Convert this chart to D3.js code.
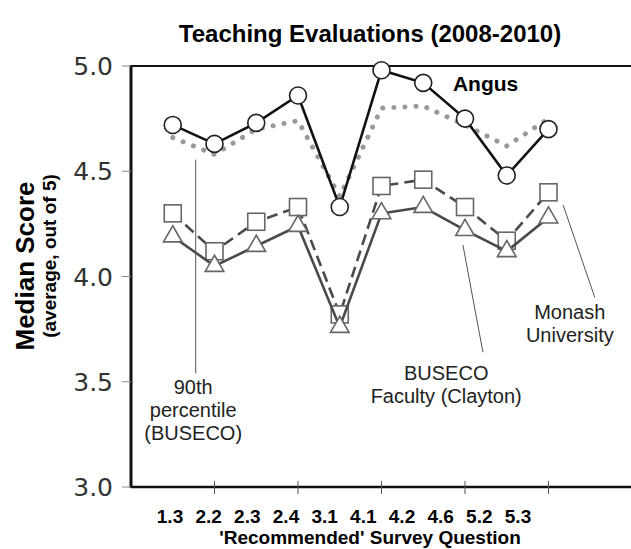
<!DOCTYPE html>
<html>
<head>
<meta charset="utf-8">
<script src="https://cdn.jsdelivr.net/npm/d3@7"></script>
<style>
  body { margin: 0; background: #fff; }
  svg { display: block; }
</style>
</head>
<body>
<div id="chart"></div>
<script>
// Survey questions (x categories)
const categories = ["1.3", "2.2", "2.3", "2.4", "3.1", "4.1", "4.2", "4.6", "5.2", "5.3"];

// Median scores
const angus   = [4.72, 4.63, 4.73, 4.86, 4.33, 4.98, 4.92, 4.75, 4.48, 4.70];
const pct90   = [4.66, 4.58, 4.70, 4.74, 4.38, 4.80, 4.81, 4.72, 4.62, 4.75];
const monash  = [4.30, 4.12, 4.26, 4.33, 3.82, 4.43, 4.46, 4.33, 4.17, 4.40];
const buseco  = [4.19, 4.05, 4.145, 4.24, 3.76, 4.30, 4.33, 4.22, 4.12, 4.28];

// Axis ticks
const yTicks = [3.0, 3.5, 4.0, 4.5, 5.0];
const xTicks = [2, 4, 6, 8, 10];

const width = 631;
const height = 549;

const svg = d3.select("#chart")
  .append("svg")
  .attr("width", width)
  .attr("height", height);

// x is the position of a question (1..10), y the score
const x = d3.scaleLinear().domain([0, 12]).range([131, 632]);
const y = d3.scaleLinear().domain([3, 5]).range([487, 66]);

// labels under the axis sit on their own, slightly tighter spacing
const xLabel = d3.scalePoint().domain(categories).range([170, 518]);

const pts = vals => vals.map((v, i) => ({ i: i + 1, v: v }));

const line = d3.line()
  .x(d => x(d.i))
  .y(d => y(d.v));

// Title
svg.append("text")
  .attr("x", 370)
  .attr("y", 42)
  .attr("text-anchor", "middle")
  .style("font-family", "'Liberation Sans', Arial, sans-serif")
  .style("font-weight", "bold")
  .style("font-size", "24px")
  .text("Teaching Evaluations (2008-2010)");

// Frame: top and bottom lines, left axis
svg.append("line")
  .attr("x1", x(0)).attr("x2", width)
  .attr("y1", y(5)).attr("y2", y(5))
  .attr("stroke", "#111").attr("stroke-width", 2.2);

svg.append("line")
  .attr("x1", x(0)).attr("x2", width)
  .attr("y1", y(3)).attr("y2", y(3))
  .attr("stroke", "#111").attr("stroke-width", 2.5);

svg.append("line")
  .attr("x1", x(0)).attr("x2", x(0))
  .attr("y1", y(5) - 1).attr("y2", y(3) + 1)
  .attr("stroke", "#111").attr("stroke-width", 3);

// y ticks and labels
svg.selectAll(".ytick")
  .data(yTicks)
  .join("line")
  .attr("class", "ytick")
  .attr("x1", x(0) - 9).attr("x2", x(0))
  .attr("y1", d => y(d)).attr("y2", d => y(d))
  .attr("stroke", "#888").attr("stroke-width", 1);

svg.selectAll(".ylab")
  .data(yTicks)
  .join("text")
  .attr("class", "ylab")
  .attr("x", 113)
  .attr("y", d => y(d))
  .attr("dy", "0.36em")
  .attr("text-anchor", "end")
  .style("font-family", "'DejaVu Sans', Verdana, sans-serif")
  .style("font-size", "25px")
  .style("fill", "#333")
  .text(d => d.toFixed(1));

// x ticks cross the bottom line
svg.selectAll(".xtick")
  .data(xTicks)
  .join("line")
  .attr("class", "xtick")
  .attr("x1", d => x(d)).attr("x2", d => x(d))
  .attr("y1", y(3) - 6).attr("y2", y(3) + 7)
  .attr("stroke", "#555").attr("stroke-width", 1);

svg.selectAll(".xlab")
  .data(categories)
  .join("text")
  .attr("class", "xlab")
  .attr("x", d => xLabel(d))
  .attr("y", 523)
  .attr("text-anchor", "middle")
  .style("font-family", "'Liberation Sans', Arial, sans-serif")
  .style("font-weight", "bold")
  .style("font-size", "19px")
  .text(d => d);

// Axis titles
svg.append("text")
  .attr("x", 370)
  .attr("y", 544)
  .attr("text-anchor", "middle")
  .style("font-family", "'Liberation Sans', Arial, sans-serif")
  .style("font-weight", "bold")
  .style("font-size", "19px")
  .text("'Recommended' Survey Question");

svg.append("text")
  .attr("transform", "translate(34,266) rotate(-90)")
  .attr("text-anchor", "middle")
  .style("font-family", "'Liberation Sans', Arial, sans-serif")
  .style("font-weight", "bold")
  .style("font-size", "26px")
  .text("Median Score");

svg.append("text")
  .attr("transform", "translate(56,256) rotate(-90)")
  .attr("text-anchor", "middle")
  .style("font-family", "'Liberation Sans', Arial, sans-serif")
  .style("font-weight", "bold")
  .style("font-size", "19px")
  .text("(average, out of 5)");

// 90th percentile: grey dotted line
svg.append("path")
  .datum(pts(pct90))
  .attr("fill", "none")
  .attr("stroke", "#999")
  .attr("stroke-width", 5)
  .attr("stroke-linecap", "round")
  .attr("stroke-dasharray", "0.1 11")
  .attr("d", line);

// Monash: dashed line with squares
svg.append("path")
  .datum(pts(monash))
  .attr("fill", "none")
  .attr("stroke", "#4a4a4a")
  .attr("stroke-width", 2.6)
  .attr("stroke-dasharray", "11 6")
  .attr("d", line);

svg.selectAll(".sq")
  .data(pts(monash))
  .join("rect")
  .attr("class", "sq")
  .attr("x", d => x(d.i) - 8.5)
  .attr("y", d => y(d.v) - 8.5)
  .attr("width", 17)
  .attr("height", 17)
  .attr("fill", "#fff")
  .attr("stroke", "#666")
  .attr("stroke-width", 1.6);

// BUSECO faculty: solid grey line with triangles
svg.append("path")
  .datum(pts(buseco))
  .attr("fill", "none")
  .attr("stroke", "#4a4a4a")
  .attr("stroke-width", 2.6)
  .attr("d", line);

const tri = d3.symbol().type(d3.symbolTriangle).size(150);
svg.selectAll(".tri")
  .data(pts(buseco))
  .join("path")
  .attr("class", "tri")
  .attr("transform", d => `translate(${x(d.i)},${y(d.v)})`)
  .attr("d", tri)
  .attr("fill", "#fff")
  .attr("stroke", "#666")
  .attr("stroke-width", 1.6);

// Angus: black line with open circles
svg.append("path")
  .datum(pts(angus))
  .attr("fill", "none")
  .attr("stroke", "#111")
  .attr("stroke-width", 2.6)
  .attr("d", line);

svg.selectAll(".dot")
  .data(pts(angus))
  .join("circle")
  .attr("class", "dot")
  .attr("cx", d => x(d.i))
  .attr("cy", d => y(d.v))
  .attr("r", 8.5)
  .attr("fill", "#fff")
  .attr("stroke", "#222")
  .attr("stroke-width", 1.6);

// Annotations (positions in data units) with leader lines
const notes = [
  { lines: ["90th", "percentile", "(BUSECO)"], tx: 1.49, ty: 3.44, from: [1.55, 4.555], to: [1.55, 3.54] },
  { lines: ["BUSECO", "Faculty (Clayton)"], tx: 7.55, ty: 3.51, from: [7.95, 4.15], to: [8.43, 3.64] },
  { lines: ["Monash", "University"], tx: 10.51, ty: 3.80, from: [10.35, 4.34], to: [11.11, 3.90] }
];

svg.selectAll(".leader")
  .data(notes)
  .join("line")
  .attr("class", "leader")
  .attr("x1", d => x(d.from[0])).attr("y1", d => y(d.from[1]))
  .attr("x2", d => x(d.to[0])).attr("y2", d => y(d.to[1]))
  .attr("stroke", "#555")
  .attr("stroke-width", 1);

const noteText = svg.selectAll(".note")
  .data(notes)
  .join("text")
  .attr("class", "note")
  .attr("text-anchor", "middle")
  .style("font-family", "'Liberation Sans', Arial, sans-serif")
  .style("font-size", "20px")
  .style("fill", "#222");

noteText.selectAll("tspan")
  .data(d => d.lines.map((t, k) => ({ t: t, k: k, d: d })))
  .join("tspan")
  .attr("x", d => x(d.d.tx))
  .attr("y", d => y(d.d.ty) + d.k * 23)
  .text(d => d.t);

svg.append("text")
  .attr("x", x(7.71))
  .attr("y", y(4.88))
  .style("font-family", "'Liberation Sans', Arial, sans-serif")
  .style("font-weight", "bold")
  .style("font-size", "21px")
  .text("Angus");
</script>
</body>
</html>
